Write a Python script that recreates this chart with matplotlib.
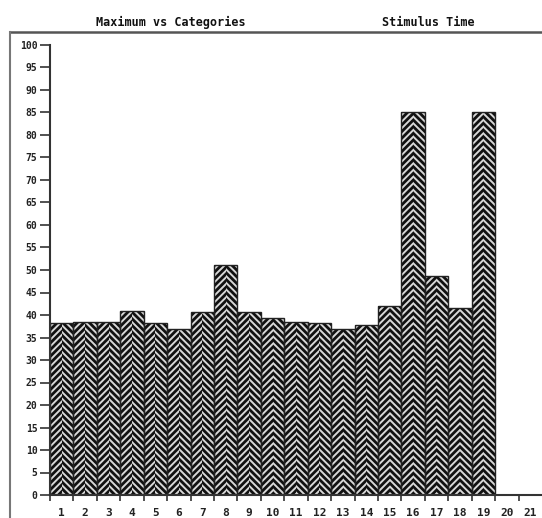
import numpy as np
import matplotlib
matplotlib.use('Agg')
from matplotlib import pyplot as plt
from matplotlib.lines import Line2D

categories = list(range(1, 22))
maximum = [38.2, 38.5, 38.5, 41.0, 38.3, 37.0, 40.7, 51.0, 40.7, 39.3, 38.5,
           38.3, 37.0, 37.8, 42.0, 85.0, 48.7, 41.5, 85.0, 0.0, 0.0]
yticks = list(range(0, 101, 5))

plt.rcParams['hatch.linewidth'] = 2.0
plt.rcParams['font.family'] = ['DejaVu Sans Mono']

fig = plt.figure(figsize=(5.42, 5.18), dpi=100)
ax = fig.add_axes([50 / 542, 23 / 518, 492 / 542, 450 / 518])

x = np.array(categories)
# herringbone look: left half one way, right half the other way
ax.bar(x - 0.25, maximum, width=0.5, facecolor='#d8d8d8', edgecolor='#111111',
       linewidth=0, hatch='/////')
ax.bar(x + 0.25, maximum, width=0.5, facecolor='#d8d8d8', edgecolor='#111111',
       linewidth=0, hatch='\\\\\\\\\\')
ax.bar(x, maximum, width=1.0, fill=False, edgecolor='#222222', linewidth=1.0)

ax.set_xlim(0.5, 21.5)
ax.set_ylim(0, 100)

ax.set_xticks(x)
ax.set_xticklabels([str(c) for c in categories], fontsize=8, fontweight='bold', color='#222222')
ax.set_xticks(np.arange(0.5, 21.5, 1.0), minor=True)
ax.tick_params(axis='x', which='major', length=0, pad=9)
ax.tick_params(axis='x', which='minor', length=4, width=1.2, color='#333333')

ax.set_yticks(yticks)
ax.set_yticklabels([str(t) for t in yticks], fontsize=7, fontweight='bold', color='#222222')
ax.tick_params(axis='y', length=7, width=1.2, pad=2, color='#333333')

ax.spines['right'].set_color('none')
ax.spines['top'].set_color('none')
ax.spines['left'].set_linewidth(1.5)
ax.spines['bottom'].set_linewidth(1.5)
ax.spines['left'].set_color('#333333')
ax.spines['bottom'].set_color('#333333')

# outer frame (top and left edges)
fig.add_artist(Line2D([10 / 542, 1.0], [1 - 32 / 518, 1 - 32 / 518],
                      transform=fig.transFigure, color='#555555', linewidth=1.8))
fig.add_artist(Line2D([10 / 542, 10 / 542], [0.0, 1 - 32 / 518],
                      transform=fig.transFigure, color='#777777', linewidth=1.5))

fig.text(171 / 542, 1 - 22 / 518, 'Maximum vs Categories', ha='center', va='center',
         fontsize=8.5, fontweight='bold', color='#111111')
fig.text(428 / 542, 1 - 22 / 518, 'Stimulus Time', ha='center', va='center',
         fontsize=8.5, fontweight='bold', color='#111111')

fig.savefig('out.png', dpi=100)
